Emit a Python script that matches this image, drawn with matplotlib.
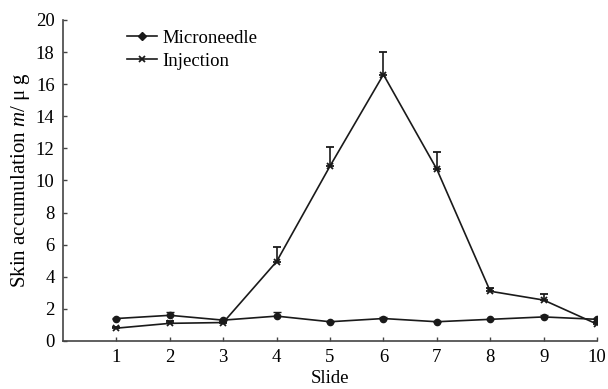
import matplotlib
matplotlib.use("Agg")
import matplotlib.pyplot as plt
import numpy as np

plt.rcParams["font.family"] = ["Liberation Serif", "DejaVu Serif"]
plt.rcParams["mathtext.fontset"] = "custom"
plt.rcParams["mathtext.it"] = "Liberation Serif:italic"
plt.rcParams["mathtext.rm"] = "Liberation Serif"

# -- Data ---------------------------------------------------
slides = [1, 2, 3, 4, 5, 6, 7, 8, 9, 10]
micro = [1.4, 1.6, 1.3, 1.55, 1.2, 1.4, 1.2, 1.35, 1.5, 1.35]
micro_err = [0.05, 0.2, 0.05, 0.25, 0.05, 0.12, 0.05, 0.05, 0.1, 0.1]
inject = [0.8, 1.1, 1.15, 4.95, 10.9, 16.6, 10.7, 3.1, 2.55, 1.05]
inject_err = [0.05, 0.15, 0.05, 0.9, 1.2, 1.4, 1.1, 0.2, 0.35, 0.15]

fig = plt.figure(figsize=(6.08, 3.89), dpi=100)
ax = fig.add_axes([0.1036, 0.1234, 0.8784, 0.8252])

ink = "#1a1a1a"
ax.errorbar(slides, micro, yerr=[np.zeros(len(micro)), micro_err],
            color=ink, marker="o", markersize=4.5, linewidth=1.2,
            capsize=3, elinewidth=1.2)
ax.errorbar(slides, inject, yerr=[np.zeros(len(inject)), inject_err],
            color=ink, marker="x", markersize=5, markeredgewidth=1.3,
            linewidth=1.2, capsize=3, elinewidth=1.2)
# legend proxies without error bars
ax.plot([], [], color=ink, marker="D", markersize=4, linewidth=1.2,
        label="Microneedle")
ax.plot([], [], color=ink, marker="x", markersize=4.5, markeredgewidth=1.3,
        linewidth=1.2, label="Injection")

ax.set_xlim(0, 10)
ax.set_ylim(0, 20)
ax.set_xticks(slides)
ax.set_yticks(np.arange(0, 21, 2))
for s in ["left", "bottom"]:
    ax.spines[s].set_color("#444444")
    ax.spines[s].set_linewidth(1.2)
ax.spines["top"].set_visible(False)
ax.spines["right"].set_visible(False)
ax.tick_params(direction="in", labelsize=13.5, length=3, width=1,
               color="#444444", pad=6)
ax.set_xlabel("Slide", fontsize=13.5, labelpad=3)
ax.set_ylabel(r"Skin accumulation $m$/ μ g", fontsize=15, labelpad=3)

ax.legend(loc="upper left", bbox_to_anchor=(0.095, 1.01), frameon=False,
          fontsize=13.5, handlelength=1.6, handletextpad=0.3,
          labelspacing=0.3, borderpad=0.2)

fig.savefig("out.png", dpi=100)
